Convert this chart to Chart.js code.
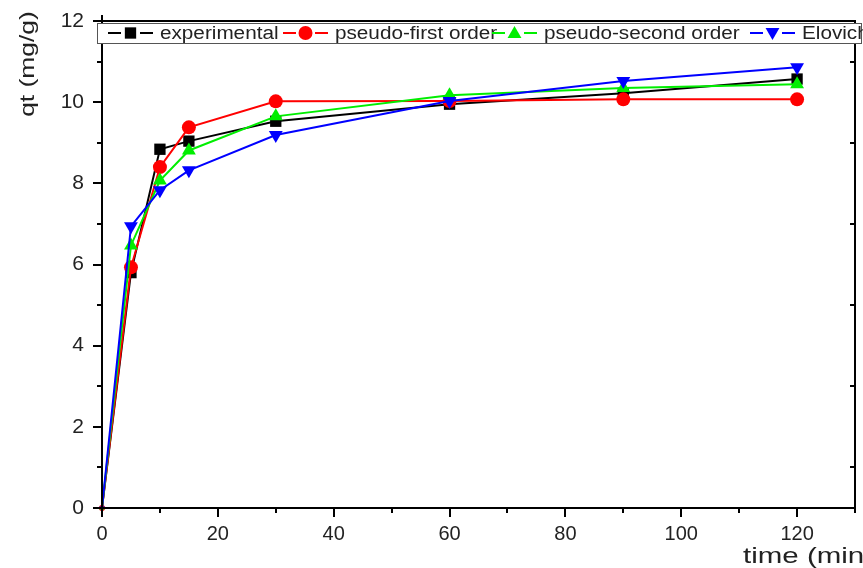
<!DOCTYPE html>
<html>
<head>
<meta charset="utf-8">
<script src="https://cdn.jsdelivr.net/npm/chart.js@4/dist/chart.umd.min.js"></script>
<style>
html,body{margin:0;padding:0;background:#fff;}
#wrap{width:863px;height:568px;}
</style>
</head>
<body>
<div id="wrap"><canvas id="c" width="863" height="568"></canvas></div>
<script>
const timeMin = [0, 5, 10, 15, 30, 60, 90, 120];
const experimental = [0, 5.80, 8.84, 9.04, 9.53, 9.95, 10.22, 10.57];
const pseudoFirst = [0, 5.93, 8.40, 9.38, 10.02, 10.03, 10.07, 10.07];
const pseudoSecond = [0, 6.47, 8.07, 8.81, 9.65, 10.17, 10.35, 10.44];
const elovich = [0, 6.94, 7.83, 8.32, 9.19, 10.03, 10.52, 10.86];
const seriesNames = ['experimental', 'pseudo-first order', 'pseudo-second order', 'Elovich'];
const xTicks = [0, 20, 40, 60, 80, 100, 120];
const yTicks = [0, 2, 4, 6, 8, 10, 12];
const xTitle = 'time (min)';
const yTitle = 'qt (mg/g)';

const colors = ['#000000', '#ff0000', '#00ee00', '#0000ff'];
const styles = ['rect', 'circle', 'triangle', 'triangle'];
const rots = [0, 0, 0, 180];
const radii = [8, 7, 8, 8];
const allSeries = [experimental, pseudoFirst, pseudoSecond, elovich];

const datasets = allSeries.map((s, i) => ({
  label: seriesNames[i],
  data: timeMin.map((t, k) => ({x: t, y: s[k]})),
  borderColor: colors[i],
  backgroundColor: colors[i],
  borderWidth: 2,
  pointStyle: styles[i],
  rotation: rots[i],
  pointRadius: ctx => ctx.dataIndex === 0 ? 3 : radii[i],
  pointBorderWidth: 0,
  pointHoverRadius: radii[i],
  tension: 0,
  order: 4 - i,
  clip: false
}));

const FONT = '"Liberation Sans", Arial, sans-serif';

const decor = {
  id: 'decor',
  afterDraw(chart) {
    const ctx = chart.ctx;
    const a = chart.chartArea;
    const xs = chart.scales.x, ys = chart.scales.y;
    ctx.save();
    ctx.strokeStyle = '#000';
    ctx.lineWidth = 2;
    ctx.strokeRect(a.left, a.top, a.right - a.left, a.bottom - a.top);
    ctx.beginPath();
    for (let v = 0; v <= 130; v += 10) {
      const px = Math.round(xs.getPixelForValue(v));
      const len = (v % 20 === 0) ? 9 : 5;
      ctx.moveTo(px, a.bottom); ctx.lineTo(px, a.bottom + len);
    }
    for (let v = 0; v <= 12; v += 1) {
      const py = Math.round(ys.getPixelForValue(v));
      const major = v % 2 === 0;
      ctx.moveTo(a.left, py); ctx.lineTo(a.left - (major ? 9 : 5), py);
      if (!major) { ctx.moveTo(a.right, py); ctx.lineTo(a.right - 5, py); }
    }
    ctx.moveTo(a.left, a.top); ctx.lineTo(a.left, a.top - 6);
    ctx.stroke();

    // legend box
    ctx.fillStyle = '#fff';
    ctx.fillRect(97, 23, 765, 20);
    ctx.lineWidth = 1;
    ctx.strokeStyle = '#555';
    ctx.strokeRect(97.5, 23.5, 764, 20);
    const symX = [108, 283, 492, 750];
    const cy = 33;
    for (let i = 0; i < 4; i++) {
      const sx = symX[i];
      ctx.strokeStyle = colors[i];
      ctx.lineWidth = 2;
      ctx.beginPath();
      ctx.moveTo(sx, cy); ctx.lineTo(sx + 13, cy);
      ctx.moveTo(sx + 32, cy); ctx.lineTo(sx + 45, cy);
      ctx.stroke();
      ctx.fillStyle = colors[i];
      Chart.helpers.drawPoint(ctx, {pointStyle: styles[i], rotation: rots[i], radius: radii[i], borderWidth: 0}, sx + 22.5, cy + (i === 2 ? 1 : i === 3 ? -1 : 0));
      ctx.save();
      ctx.translate(sx + 52, cy + 1);
      ctx.scale(1.15, 1);
      ctx.font = '18px ' + FONT;
      ctx.fillStyle = '#222';
      ctx.textBaseline = 'middle';
      ctx.fillText(seriesNames[i], 0, 0);
      ctx.restore();
    }

    // axis titles
    ctx.save();
    ctx.fillStyle = '#222';
    ctx.font = '22px ' + FONT;
    ctx.translate(743, 563);
    ctx.scale(1.34, 1);
    ctx.textBaseline = 'alphabetic';
    ctx.fillText(xTitle, 0, 0);
    ctx.restore();

    ctx.save();
    ctx.fillStyle = '#222';
    ctx.font = '20px ' + FONT;
    ctx.translate(28, 64);
    ctx.rotate(-Math.PI / 2);
    ctx.scale(1.32, 1);
    ctx.textAlign = 'center';
    ctx.textBaseline = 'middle';
    ctx.fillText(yTitle, 0, 0);
    ctx.restore();
    ctx.restore();
  }
};

new Chart(document.getElementById('c'), {
  type: 'line',
  data: { datasets },
  options: {
    responsive: false,
    devicePixelRatio: 1,
    animation: false,
    layout: { padding: { left: 0, top: 21, right: 7, bottom: 0 } },
    plugins: { legend: { display: false }, tooltip: { enabled: false } },
    scales: {
      x: {
        type: 'linear', min: 0, max: 130,
        afterFit: s => { s.height = 60; s.paddingLeft = 0; s.paddingRight = 0; },
        afterBuildTicks: s => { s.ticks = xTicks.map(v => ({value: v})); },
        grid: { display: false, drawTicks: false },
        border: { display: false },
        ticks: { padding: 14, color: '#222', font: { family: FONT, size: 20 }, maxRotation: 0, autoSkip: false }
      },
      y: {
        type: 'linear', min: 0, max: 12,
        afterFit: s => { s.width = 102; s.paddingTop = 0; s.paddingBottom = 0; },
        afterBuildTicks: s => { s.ticks = yTicks.map(v => ({value: v})); },
        grid: { display: false, drawTicks: false },
        border: { display: false },
        ticks: { padding: 18, color: '#222', font: { family: FONT, size: 21 }, autoSkip: false }
      }
    }
  },
  plugins: [decor]
});
</script>
</body>
</html>
